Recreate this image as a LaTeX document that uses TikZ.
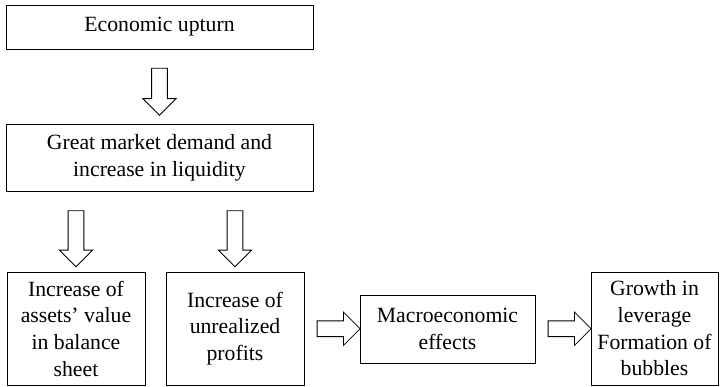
\documentclass[tikz,border=0pt]{standalone}
\usepackage{fontspec}
\setmainfont{Liberation Serif}
\usetikzlibrary{shapes.arrows,calc}

\begin{document}
\begin{tikzpicture}[
  x=0.75pt, y=-0.75pt,
  box/.style={draw, line width=0.6pt, align=center, inner sep=0pt, font=\fontsize{16.3}{20}\selectfont},
  blockarrow/.style={draw, line width=0.6pt, single arrow, inner sep=5.6pt, minimum width=24.5pt, single arrow head extend=6.6pt},
  downarrow/.style={blockarrow, shape border rotate=270},
  rightarrow/.style={blockarrow, shape border rotate=0}
]
\useasboundingbox (0,0) rectangle (723,386);

\node[box, minimum width=230.25pt, minimum height=33pt] (econ) at (159.5,27) {Economic upturn};
\node[box, minimum width=230.25pt, minimum height=50.25pt] (demand) at (159.5,157.5) {Great market demand and\\increase in liquidity};
\node[box, minimum width=103.5pt, minimum height=84.75pt] (assets) at (76,328.5) {Increase of\\assets' value\\in balance\\sheet};
\node[box, minimum width=103.5pt, minimum height=84.75pt] (profits) at (235,328.5) {Increase of\\unrealized\\profits};
\node[box, minimum width=131.25pt, minimum height=51pt] (macro) at (447.5,329) {Macroeconomic\\effects};
\node[box, minimum width=95.25pt, minimum height=84.75pt] (growth) at (654.5,328.5) {Growth in\\leverage\\Formation of\\bubbles};

% block arrows between the boxes
\node[downarrow, minimum height=35.25pt, yshift=-1pt] (ar1) at ($(econ.south)!0.5!(demand.north)$) {};
\node[downarrow, minimum height=42pt, yshift=-2.5pt] (ar2) at ($(demand.south -| assets)!0.5!(assets.north)$) {};
\node[downarrow, minimum height=42pt, yshift=-2.5pt] (ar3) at ($(demand.south -| profits)!0.5!(profits.north)$) {};
\node[rightarrow, minimum height=32.25pt, xshift=2pt] (ar4) at ($(profits.east)!0.5!(macro.west)$) {};
\node[rightarrow, minimum height=32.25pt, xshift=2pt] (ar5) at ($(macro.east)!0.5!(growth.west)$) {};
\end{tikzpicture}
\end{document}
